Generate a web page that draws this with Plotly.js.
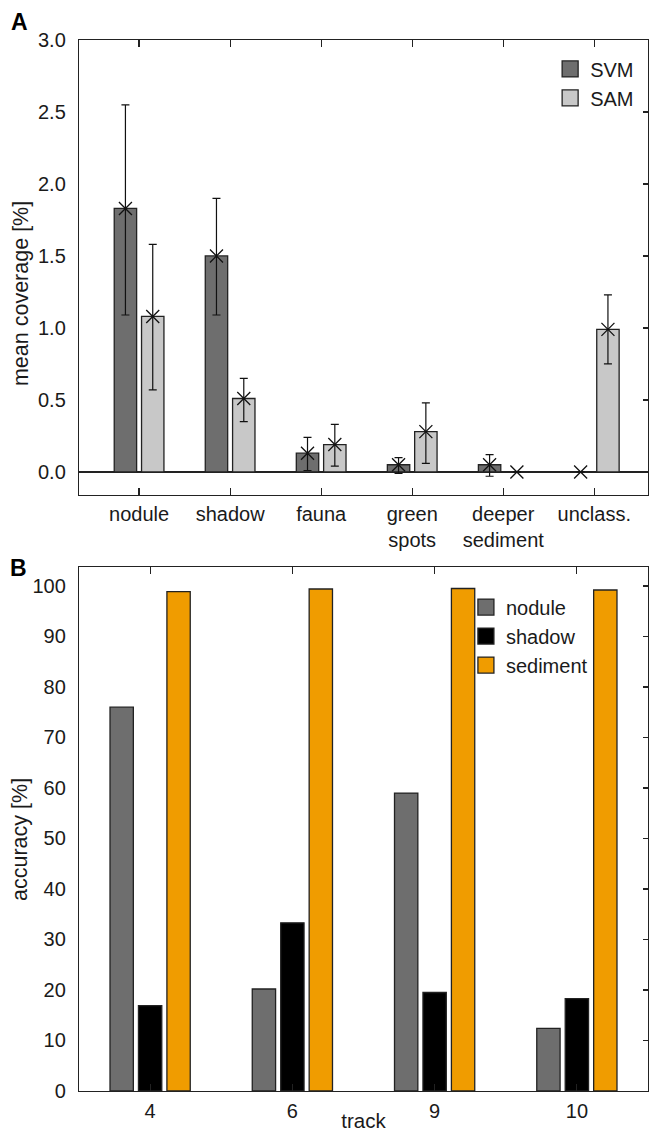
<!DOCTYPE html>
<html>
<head>
<meta charset="utf-8">
<script src="https://cdn.plot.ly/plotly-3.0.1.min.js"></script>
<style>html,body{margin:0;padding:0;background:#fff;}#chart{width:649px;height:1132px;}</style>
</head>
<body>
<div id="chart"></div>
<script>
// ---- Panel A data ----
const categoriesA = ['nodule', 'shadow', 'fauna', 'green spots', 'deeper sediment', 'unclass.'];
const tickLabelsA = ['nodule', 'shadow', 'fauna', 'green<br>spots', 'deeper<br>sediment', 'unclass.'];
const svmMean = [1.83, 1.50, 0.13, 0.05, 0.05, 0.00];
const svmErrPlus = [0.72, 0.40, 0.11, 0.05, 0.07, null];
const svmErrMinus = [0.74, 0.41, 0.12, 0.06, 0.08, null];
const samMean = [1.08, 0.51, 0.19, 0.28, 0.00, 0.99];
const samErrPlus = [0.50, 0.14, 0.14, 0.20, null, 0.24];
const samErrMinus = [0.51, 0.16, 0.15, 0.22, null, 0.24];
const yTicksA = [0, 0.5, 1.0, 1.5, 2.0, 2.5, 3.0];

// ---- Panel B data ----
const tracks = ['4', '6', '9', '10'];
const noduleAcc = [76.0, 20.2, 59.0, 12.4];
const shadowAcc = [16.9, 33.3, 19.5, 18.3];
const sedimentAcc = [98.9, 99.4, 99.5, 99.2];
const yTicksB = [0, 10, 20, 30, 40, 50, 60, 70, 80, 90, 100];

const FONT = 'Liberation Sans, Arial, sans-serif';
const INK = '#1a1a1a';
const EDGE = '#222222';
const TICKSIZE = 20;
const TITLESIZE = 21.5;
const cSVM = '#6e6e6e', cSAM = '#c8c8c8';
const cNod = '#6e6e6e', cSha = '#000000', cSed = '#f09c00';

function barTrace(x, y, color, name, xa, ya, og) {
  return {type: 'bar', x: x, y: y, name: name, xaxis: xa, yaxis: ya, offsetgroup: og,
    marker: {color: color, line: {color: EDGE, width: 1.3}}, showlegend: false, hoverinfo: 'skip'};
}
function markTrace(x, y, ep, em, og) {
  return {type: 'scatter', mode: 'markers', x: x, y: y, xaxis: 'x', yaxis: 'y', offsetgroup: og,
    marker: {symbol: 'x-thin-open', size: 13, color: '#111', line: {color: '#111', width: 1.3}},
    error_y: {type: 'data', symmetric: false, array: ep, arrayminus: em, color: '#111', thickness: 1.2, width: 4},
    showlegend: false, hoverinfo: 'skip'};
}
function legendTrace(name, color, xa, ya, lg) {
  return {type: 'scatter', mode: 'markers', x: [null], y: [null], name: name, xaxis: xa, yaxis: ya, legend: lg,
    marker: {symbol: 'square', size: 16, color: color, line: {color: EDGE, width: 1.3}}, hoverinfo: 'skip'};
}

const data = [
  barTrace(categoriesA, svmMean, cSVM, 'SVM', 'x', 'y', 'a1'),
  barTrace(categoriesA, samMean, cSAM, 'SAM', 'x', 'y', 'a2'),
  markTrace(categoriesA, svmMean, svmErrPlus, svmErrMinus, 'a1'),
  markTrace(categoriesA, samMean, samErrPlus, samErrMinus, 'a2'),
  barTrace(tracks, noduleAcc, cNod, 'nodule', 'x2', 'y2', 'b1'),
  barTrace(tracks, shadowAcc, cSha, 'shadow', 'x2', 'y2', 'b2'),
  barTrace(tracks, sedimentAcc, cSed, 'sediment', 'x2', 'y2', 'b3'),
  legendTrace('SVM', cSVM, 'x', 'y3', 'legend'),
  legendTrace('SAM', cSAM, 'x', 'y3', 'legend'),
  legendTrace('nodule', cNod, 'x2', 'y4', 'legend2'),
  legendTrace('shadow', cSha, 'x2', 'y4', 'legend2'),
  legendTrace('sediment', cSed, 'x2', 'y4', 'legend2')
];

const axCommon = {showline: true, linecolor: EDGE, linewidth: 1.2, showgrid: false,
  tickfont: {family: FONT, size: TICKSIZE, color: INK}, fixedrange: true};

const layout = {
  width: 649, height: 1132,
  margin: {l: 79, r: 1, t: 40, b: 41, pad: 0},
  paper_bgcolor: '#ffffff', plot_bgcolor: '#ffffff',
  font: {family: FONT, size: TICKSIZE, color: INK},
  barmode: 'group', bargap: 0.40, bargroupgap: 0.18,
  scattermode: 'group', scattergap: 0.40,
  showlegend: true,
  xaxis: Object.assign({}, axCommon, {
    type: 'category', categoryorder: 'array', categoryarray: categoriesA,
    tickvals: categoriesA, ticktext: tickLabelsA,
    range: [-0.66, 5.59], anchor: 'y', domain: [0, 1],
    mirror: 'ticks', ticks: 'inside', ticklen: 7, tickwidth: 1.2, tickcolor: EDGE,
    ticklabelstandoff: 1
  }),
  yaxis: Object.assign({}, axCommon, {
    domain: [0.5671, 1], range: [-0.16, 3.0], anchor: 'x',
    tickvals: yTicksA, tickformat: '.1f', ticks: '', mirror: true,
    zeroline: true, zerolinecolor: EDGE, zerolinewidth: 1.2,
    ticklabelstandoff: 8
  }),
  yaxis3: {overlaying: 'y', side: 'right', anchor: 'x', range: [-0.16, 3.0], tickvals: yTicksA,
    ticks: 'inside', ticklen: 5, tickwidth: 1.2, tickcolor: EDGE, showticklabels: false,
    showline: false, showgrid: false, zeroline: false, fixedrange: true},
  xaxis2: Object.assign({}, axCommon, {
    type: 'category', categoryorder: 'array', categoryarray: tracks,
    range: [-0.5, 3.5], anchor: 'y2', domain: [0, 1],
    mirror: 'ticks', ticks: 'inside', ticklen: 7, tickwidth: 1.2, tickcolor: EDGE,
    ticklabelstandoff: 2,
    title: {text: 'track', font: {family: FONT, size: TITLESIZE - 1, color: INK}, standoff: 0}
  }),
  yaxis2: Object.assign({}, axCommon, {
    domain: [0, 0.4983], range: [0, 103.7], anchor: 'x2',
    tickvals: yTicksB, ticks: '', mirror: true, zeroline: false,
    ticklabelstandoff: 8
  }),
  yaxis4: {overlaying: 'y2', side: 'right', anchor: 'x2', range: [0, 103.7], tickvals: yTicksB,
    ticks: 'inside', ticklen: 5, tickwidth: 1.2, tickcolor: EDGE, showticklabels: false,
    showline: false, showgrid: false, zeroline: false, fixedrange: true},
  legend: {x: 0.828, y: 0.991, xanchor: 'left', yanchor: 'top', bgcolor: 'rgba(0,0,0,0)',
    font: {family: FONT, size: 20, color: INK}, tracegroupgap: 0},
  legend2: {x: 0.680, y: 0.479, xanchor: 'left', yanchor: 'top', bgcolor: 'rgba(0,0,0,0)',
    font: {family: FONT, size: 20, color: INK}, tracegroupgap: 0},
  annotations: [
    {text: '<b>A</b>', xref: 'paper', yref: 'paper', x: -0.1037, y: 1.0171, xanchor: 'center', yanchor: 'middle',
      showarrow: false, font: {family: FONT, size: 23, color: '#000'}},
    {text: '<b>B</b>', xref: 'paper', yref: 'paper', x: -0.1055, y: 0.4976, xanchor: 'center', yanchor: 'middle',
      showarrow: false, font: {family: FONT, size: 23, color: '#000'}},
    {text: 'mean coverage [%]', xref: 'paper', yref: 'paper', x: -0.1019, y: 0.7583, xanchor: 'center', yanchor: 'middle',
      textangle: -90, showarrow: false, font: {family: FONT, size: TITLESIZE, color: INK}},
    {text: 'accuracy [%]', xref: 'paper', yref: 'paper', x: -0.1037, y: 0.2398, xanchor: 'center', yanchor: 'middle',
      textangle: -90, showarrow: false, font: {family: FONT, size: TITLESIZE, color: INK}}
  ]
};

Plotly.newPlot('chart', data, layout, {staticPlot: true, displayModeBar: false});
</script>
</body>
</html>
